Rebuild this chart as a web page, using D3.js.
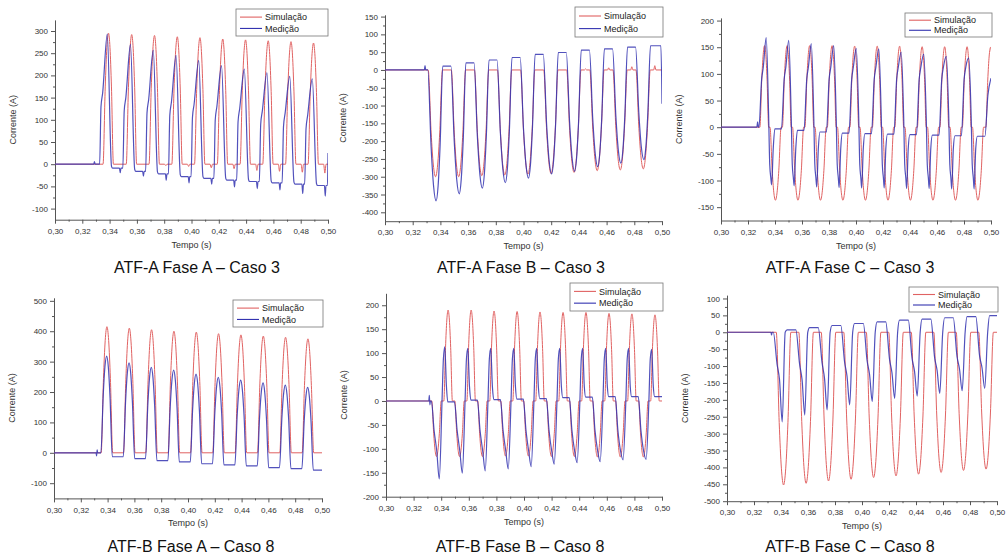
<!DOCTYPE html>
<html><head><meta charset="utf-8">
<script src="https://cdn.jsdelivr.net/npm/d3@7"></script>
<style>
body{margin:0;background:#fff}
svg{display:block}
text{font-family:"Liberation Sans",Arial,Helvetica,sans-serif}
</style>
</head><body>
<svg id="c" width="1006" height="556"></svg>
<script>
// ---------- shared labels ----------
const xTickVals = [0.30,0.32,0.34,0.36,0.38,0.40,0.42,0.44,0.46,0.48,0.50];
const xMinorVals = [0.31,0.33,0.35,0.37,0.39,0.41,0.43,0.45,0.47,0.49];
const legendLabels = ["Simulação","Medição"];
const panelTitles = ["ATF-A Fase A – Caso 3","ATF-A Fase B – Caso 3","ATF-A Fase C – Caso 3",
                     "ATF-B Fase A – Caso 8","ATF-B Fase B – Caso 8","ATF-B Fase C – Caso 8"];
const xLabel = "Tempo (s)";
const yLabel = "Corrente (A)";

// normalised lobe profile read from the humps (position, fraction of peak)
const lobeProfile = [[-1,0],[-0.6,0.59],[-0.3,0.89],[0,1],[0.3,0.89],[0.6,0.59],[1,0]];

// ---------- Panel 1: ATF-A Fase A ----------
const p1YTicks = [-100,-50,0,50,100,150,200,250,300];
const p1SimT = [0.3392,0.3562,0.3729,0.3896,0.4062,0.4229,0.4396,0.4562,0.4729,0.4894];
const p1SimPeak = [295,292,290,287,285,282,280,278,276,273];
const p1SimDip = [0,0,-3,-5,-8,-10,-14,-16,-18,-20];
const p1MeasPeak = [293,270,257,245,234,222,214,206,198,192];
const p1MeasShoulder = [160,150,145,140,135,130,125,120,115,110];
const p1MeasLevel = [-9,-16,-22,-28,-32,-36,-39,-42,-45,-48];
const p1MeasDip = [-19,-27,-36,-42,-45,-51,-55,-58,-66,-72];

// ---------- Panel 2: ATF-A Fase B ----------
const p2YTicks = [-400,-350,-300,-250,-200,-150,-100,-50,0,50,100,150];
const p2SimT = [0.3365,0.3532,0.3699,0.3865,0.4032,0.4199,0.4365,0.4532,0.4699,0.4865];
const p2SimMin = [-300,-300,-297,-295,-293,-291,-288,-283,-281,-278];
const p2SimBump = [0,0,0,0,0,0,3,6,9,12];
const p2MeasMin = [-368,-348,-332,-317,-304,-292,-285,-272,-262,-252];
const p2MeasPlateau = [11,20,28,35,44,49,56,59,64,68];

// ---------- Panel 3: ATF-A Fase C ----------
const p3YTicks = [-150,-100,-50,0,50,100,150,200];
const p3SimT = [0.3323,0.3490,0.3657,0.3823,0.3990,0.4157,0.4323,0.4490,0.4657,0.4823,0.4997];
const p3SimPos = [153,153,153,153,152,152,152,151,151,151,150];
const p3SimNeg = [-137,-137,-137,-137,-137,-137,-137,-137,-137,-137];
const p3MeasPos = [168,163,157,153,148,147,141,137,133,130,92];
const p3MeasNeg = [-108,-110,-112,-113,-114,-114,-115,-115,-116,-116];
const p3MeasLevel = [-3,-6,-9,-11,-12,-13,-14,-15,-16,-17];

// ---------- Panel 4: ATF-B Fase A ----------
const p4YTicks = [-100,0,100,200,300,400,500];
const p4SimT = [0.3395,0.3562,0.3728,0.3895,0.4062,0.4228,0.4395,0.4562,0.4728,0.4895];
const p4SimPeak = [415,410,405,400,397,392,388,384,380,375];
const p4MeasPeak = [318,296,281,272,259,248,239,230,223,215];
const p4MeasLevel = [-13,-19,-26,-30,-36,-40,-43,-49,-52,-57];

// ---------- Panel 5: ATF-B Fase B ----------
const p5YTicks = [-200,-150,-100,-50,0,50,100,150,200];
const p5SimNegT = [0.3366,0.3533,0.3699,0.3866,0.4032,0.4199,0.4365,0.4532,0.4698,0.4865];
const p5SimPosT = [0.3450,0.3617,0.3783,0.3950,0.4116,0.4283,0.4449,0.4616,0.4782,0.4949];
const p5SimNeg = [-116,-116,-116,-115,-115,-116,-116,-117,-117,-117];
const p5SimPos = [190,190,188,187,186,185,185,183,182,180];
const p5MeasNeg = [-163,-151,-146,-142,-137,-132,-129,-127,-123,-122];
const p5MeasPos = [113,110,110,110,110,110,110,110,110,108];
const p5MeasLevel = [-2,2,3,4,5,7,8,9,9,9];

// ---------- Panel 6: ATF-B Fase C ----------
const p6YTicks = [-500,-450,-400,-350,-300,-250,-200,-150,-100,-50,0,50,100];
const p6SimT = [0.3419,0.3586,0.3752,0.3919,0.4086,0.4252,0.4419,0.4586,0.4752,0.4919];
const p6SimMin = [-452,-447,-440,-435,-430,-425,-420,-415,-409,-405];
const p6MeasMin = [-265,-245,-230,-215,-205,-196,-189,-181,-173,-166];
const p6MeasKneeA = [-95,-95,-90,-88,-85,-80,-78,-75,-72,-70];
const p6MeasKneeB = [-140,-140,-135,-130,-125,-120,-115,-112,-108,-105];
const p6MeasPlateau = [7,14,20,26,31,36,39,43,46,49];

// ---------- helpers to assemble series from the read values ----------
function lobe(p, tA, tP, tB, base0, peak, base1){
  lobeProfile.forEach(([u,f])=>{
    if(u<0) p.push([tP+u*(tP-tA), base0+f*(peak-base0)]);
    else if(u===0) p.push([tP, peak]);
    else p.push([tP+u*(tB-tP), base1+f*(peak-base1)]);
  });
}

function p1Sim(){ const p=[[0.30,0]];
  p1SimT.forEach((tp,k)=>{ lobe(p,tp-0.0040,tp,tp+0.0036,0,p1SimPeak[k],0);
    if(p1SimDip[k]<0) p.push([tp+0.0074,0],[tp+0.0083,p1SimDip[k]],[tp+0.0092,0]); });
  p.push([0.50,0]); return p; }
function p1Meas(){ const p=[[0.30,0],[0.3284,0],[0.3289,6],[0.3294,0]]; let prev=0;
  p1SimT.forEach((tp,k)=>{
    p.push([tp-0.0065,prev],[tp-0.0055,p1MeasShoulder[k]-30],[tp-0.0043,p1MeasShoulder[k]],
           [tp-0.0009,p1MeasPeak[k]],[tp+0.0022,p1MeasLevel[k]+4],[tp+0.0030,p1MeasLevel[k]],
           [tp+0.0080,p1MeasLevel[k]],[tp+0.0086,p1MeasDip[k]],[tp+0.0091,p1MeasLevel[k]]);
    prev=p1MeasLevel[k]; });
  p.push([0.4996,prev],[0.50,25]); return p; }

function p2Sim(){ const p=[[0.30,0]];
  p2SimT.forEach((tp,k)=>{ lobe(p,tp-0.0053,tp,tp+0.0050,0,p2SimMin[k],0);
    if(p2SimBump[k]>0) p.push([tp+0.0075,0],[tp+0.0083,p2SimBump[k]],[tp+0.0091,0]); });
  p.push([0.50,0]); return p; }
function p2Meas(){ const p=[[0.30,0],[0.3284,0],[0.3289,12],[0.3294,0]]; let prev=0;
  p2SimT.forEach((tp,k)=>{ lobe(p,tp-0.0056,tp+0.0004,tp+0.0052,prev,p2MeasMin[k],p2MeasPlateau[k]); prev=p2MeasPlateau[k]; });
  p.push([0.4992,prev],[0.50,-95]); return p; }

function p3Sim(){ const p=[[0.30,0]];
  p3SimT.forEach((tp,k)=>{ lobe(p,tp-0.0035,tp,tp+0.0030,0,p3SimPos[k],0);
    if(k<p3SimNeg.length) lobe(p,tp+0.0040,tp+0.0080,tp+0.0122,0,p3SimNeg[k],0); });
  return p; }
function p3Meas(){ const p=[[0.30,0],[0.3266,0],[0.3271,10],[0.3276,0]]; let prev=0;
  p3SimT.forEach((tp,k)=>{
    if(k<p3MeasNeg.length){
      p.push([tp-0.0042,prev],[tp-0.0022,90],[tp-0.0010,112],[tp+0.0012,p3MeasPos[k]],
             [tp+0.0030,20],[tp+0.0038,-70],[tp+0.0046,-95],[tp+0.0052,p3MeasNeg[k]],
             [tp+0.0064,-40],[tp+0.0076,p3MeasLevel[k]]);
      prev=p3MeasLevel[k];
    } else {
      p.push([tp-0.0042,prev],[tp-0.0020,60],[0.50,p3MeasPos[k]]);
    }
  });
  return p; }

function p4Sim(){ const p=[[0.30,0]];
  p4SimT.forEach((tp,k)=>lobe(p,tp-0.0043,tp,tp+0.0043,0,p4SimPeak[k],0));
  p.push([0.50,0]); return p; }
function p4Meas(){ const p=[[0.30,0],[0.3314,0],[0.3318,-10],[0.3322,10],[0.3326,0]]; let prev=0;
  p4SimT.forEach((tp,k)=>{ lobe(p,tp-0.0045,tp-0.0002,tp+0.0040,prev,p4MeasPeak[k],p4MeasLevel[k]); prev=p4MeasLevel[k]; });
  p.push([0.50,prev]); return p; }

function p5Sim(){ const p=[[0.30,0]];
  p5SimNegT.forEach((tn,k)=>{ lobe(p,tn-0.0034,tn,tn+0.0034,0,p5SimNeg[k],0);
    const tp=p5SimPosT[k]; lobe(p,tp-0.0031,tp,tp+0.0031,0,p5SimPos[k],0); });
  p.push([0.50,0]); return p; }
function p5Meas(){ const p=[[0.30,0],[0.3310,0],[0.3314,12],[0.3318,-8],[0.3322,0]]; let prev=0;
  p5SimNegT.forEach((tn,k)=>{
    p.push([tn-0.0037,prev],[tn-0.0018,-60],[tn+0.0002,-105],[tn+0.0020,p5MeasNeg[k]],
           [tn+0.0040,0],[tn+0.0050,88],[tn+0.0060,p5MeasPos[k]],[tn+0.0072,30],[tn+0.0082,p5MeasLevel[k]]);
    prev=p5MeasLevel[k]; });
  p.push([0.50,prev]); return p; }

function p6Sim(){ const p=[[0.30,0]];
  p6SimT.forEach((tp,k)=>lobe(p,tp-0.0054,tp,tp+0.0054,0,p6SimMin[k],0));
  p.push([0.50,0]); return p; }
function p6Meas(){ const p=[[0.30,0],[0.3326,0],[0.3330,-8],[0.3334,0]]; let prev=0;
  p6SimT.forEach((tp,k)=>{
    p.push([tp-0.0076,prev],[tp-0.0048,p6MeasKneeA[k]],[tp-0.0030,p6MeasKneeB[k]],[tp-0.0010,p6MeasMin[k]],
           [tp+0.0012,0],[tp+0.0026,p6MeasPlateau[k]]);
    prev=p6MeasPlateau[k]; });
  p.push([0.50,prev]); return p; }

// ---------- layout (pixel geometry) ----------
const panels = [
  {x0:55,  x1:328, yB:219.7, yT:19.9,  dom:[-125,325], ticks:p1YTicks, sim:p1Sim, meas:p1Meas, tx:197, ty:273, lx:236, ly:9,   lw:92, lh:27},
  {x0:385, x1:662, yB:221.2, yT:14.8,  dom:[-425,155], ticks:p2YTicks, sim:p2Sim, meas:p2Meas, tx:521, ty:273, lx:575, ly:7,   lw:88, lh:30},
  {x0:721, x1:991, yB:220.5, yT:17.9,  dom:[-175,205], ticks:p3YTicks, sim:p3Sim, meas:p3Meas, tx:850, ty:273, lx:905, ly:13,  lw:87, lh:24},
  {x0:54,  x1:322, yB:498.4, yT:297.8, dom:[-150,510], ticks:p4YTicks, sim:p4Sim, meas:p4Meas, tx:191, ty:552, lx:233, ly:300, lw:90, lh:27},
  {x0:386, x1:662, yB:496.7, yT:293.3, dom:[-200,225], ticks:p5YTicks, sim:p5Sim, meas:p5Meas, tx:520, ty:552, lx:570, ly:283, lw:93, lh:28},
  {x0:727, x1:997, yB:501.2, yT:295.1, dom:[-500,110], ticks:p6YTicks, sim:p6Sim, meas:p6Meas, tx:850, ty:552, lx:909, ly:287, lw:89, lh:25}
];

const RED = "#e06262", BLUE = "#3333b0", AX = "#555", TXT = "#333";
const svg = d3.select("#c");

panels.forEach((P,i)=>{
  const g = svg.append("g");
  const x = d3.scaleLinear().domain([0.30,0.50]).range([P.x0,P.x1]);
  const y = d3.scaleLinear().domain(P.dom).range([P.yB,P.yT]);

  // minor ticks
  const yMinor = [];
  for(let j=0;j<P.ticks.length-1;j++) yMinor.push((P.ticks[j]+P.ticks[j+1])/2);
  const step = P.ticks[1]-P.ticks[0];
  const below = P.ticks[0]-step/2, above = P.ticks[P.ticks.length-1]+step/2;
  if(below>P.dom[0]) yMinor.push(below);
  if(above<P.dom[1]) yMinor.push(above);

  g.append("g").attr("transform",`translate(0,${P.yB})`)
    .call(d3.axisBottom(x).tickValues(xMinorVals).tickSize(2).tickFormat(""))
    .call(s=>s.select(".domain").remove());
  g.append("g").attr("transform",`translate(${P.x0},0)`)
    .call(d3.axisLeft(y).tickValues(yMinor).tickSize(2).tickFormat(""))
    .call(s=>s.select(".domain").remove());

  const gx = g.append("g").attr("transform",`translate(0,${P.yB})`)
    .call(d3.axisBottom(x).tickValues(xTickVals).tickSize(4).tickSizeOuter(0)
      .tickFormat(d=>d3.format(".2f")(d).replace(".",",")));
  const gy = g.append("g").attr("transform",`translate(${P.x0},0)`)
    .call(d3.axisLeft(y).tickValues(P.ticks).tickSize(4).tickSizeOuter(0).tickFormat(d=>String(d)));
  [gx,gy].forEach(a=>{
    a.selectAll("text").attr("font-size",8).attr("fill",TXT).style("font-family",'"Liberation Sans",Arial,sans-serif');
    a.select(".domain").attr("stroke",AX);
  });
  gx.selectAll("text").attr("dy","0.9em");
  g.selectAll(".tick line").attr("stroke",AX);

  // axis titles
  g.append("text").attr("x",(P.x0+P.x1)/2).attr("y",P.yB+28).attr("text-anchor","middle")
    .attr("font-size",9).attr("fill",TXT).text(xLabel);
  g.append("text").attr("transform",`translate(${P.x0-39},${(P.yB+P.yT)/2}) rotate(-90)`)
    .attr("text-anchor","middle").attr("font-size",9).attr("fill",TXT).text(yLabel);

  // series
  const clipId = "clip"+i;
  svg.append("clipPath").attr("id",clipId).append("rect")
    .attr("x",P.x0).attr("y",P.yT).attr("width",P.x1-P.x0).attr("height",P.yB-P.yT);
  const line = d3.line().x(d=>x(d[0])).y(d=>y(d[1])).curve(d3.curveMonotoneX);
  const pg = g.append("g").attr("clip-path",`url(#${clipId})`);
  pg.append("path").datum(P.sim()).attr("d",line).attr("fill","none").attr("stroke",RED).attr("stroke-width",1);
  pg.append("path").datum(P.meas()).attr("d",line).attr("fill","none").attr("stroke",BLUE).attr("stroke-width",1.2).attr("stroke-opacity",0.85);

  // legend
  const lg = g.append("g");
  lg.append("rect").attr("x",P.lx).attr("y",P.ly).attr("width",P.lw).attr("height",P.lh)
    .attr("fill","#fff").attr("stroke","#777").attr("stroke-width",0.8);
  [RED,BLUE].forEach((c,j)=>{
    const cy = P.ly + P.lh*(j===0?0.3:0.72);
    lg.append("line").attr("x1",P.lx+4).attr("x2",P.lx+26).attr("y1",cy).attr("y2",cy)
      .attr("stroke",c).attr("stroke-width",1.1);
    lg.append("text").attr("x",P.lx+29).attr("y",cy).attr("dy","0.35em")
      .attr("font-size",9).attr("fill","#222").text(legendLabels[j]);
  });

  // panel title
  g.append("text").attr("x",P.tx).attr("y",P.ty).attr("text-anchor","middle")
    .attr("font-size",16).attr("fill","#111").text(panelTitles[i]);
});
</script>
</body></html>
